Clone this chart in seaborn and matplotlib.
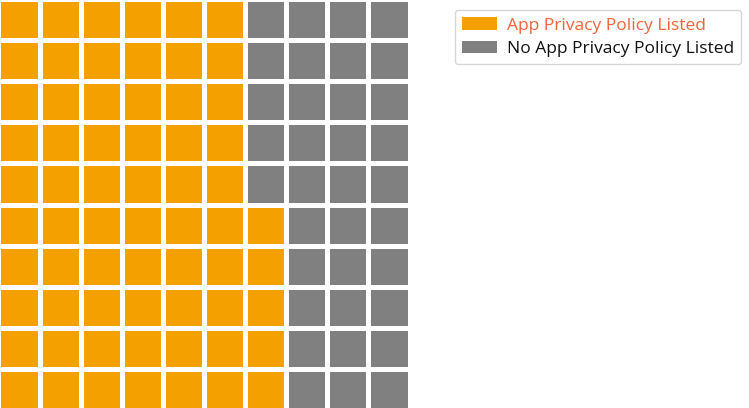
import numpy as np
import matplotlib
matplotlib.use("Agg")
import matplotlib.pyplot as plt
from matplotlib.colors import ListedColormap
from matplotlib.patches import Patch
import seaborn as sns

categories = ["App Privacy Policy Listed", "No App Privacy Policy Listed"]
values = [65, 35]
colors = ["#F4A100", "#808080"]
label_colors = ["#F0643A", "#111111"]
n_rows, n_cols = 10, 10

sns.set_theme(style="white")
plt.rcParams['font.family'] = ['Open Sans', 'DejaVu Sans']

# build waffle matrix: fill column by column from bottom-left
cells = np.concatenate([np.full(v, i) for i, v in enumerate(values)])
grid = np.zeros((n_rows, n_cols))
for idx, c in enumerate(cells):
    col = idx // n_rows
    r = idx % n_rows
    grid[n_rows - 1 - r, col] = c

fig = plt.figure(figsize=(7.49, 4.08), dpi=100)
ax = fig.add_axes([-1.5 / 749, -2.5 / 408, 411 / 749, 412 / 408])
sns.heatmap(grid, ax=ax, cmap=ListedColormap(colors), cbar=False,
            linewidths=3.5, linecolor="white", square=False,
            xticklabels=False, yticklabels=False, vmin=0, vmax=1)

handles = [Patch(facecolor=colors[i], edgecolor="none", label=categories[i]) for i in range(2)]
leg = fig.legend(handles=handles, loc="upper left", bbox_to_anchor=(455 / 749, 1 - 10 / 408),
                 frameon=True, fontsize=12.5, handlelength=2.0, handleheight=0.72,
                 borderpad=0.42, labelspacing=0.42, handletextpad=0.55, fancybox=True,
                 borderaxespad=0)
leg.get_frame().set_edgecolor("#cccccc")
for t, c in zip(leg.get_texts(), label_colors):
    t.set_color(c)

fig.savefig("out.png", dpi=100)
